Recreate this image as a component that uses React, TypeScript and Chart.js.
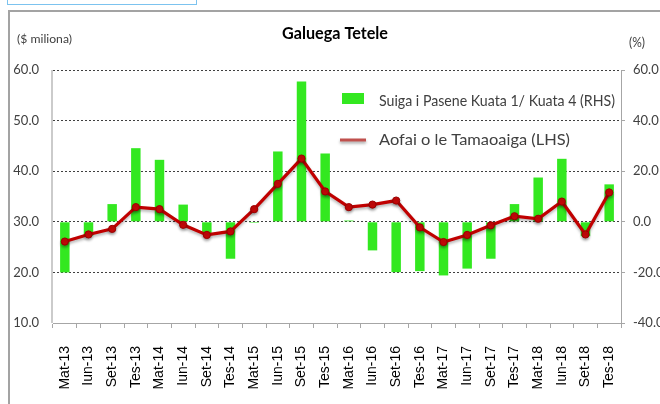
import React, { useEffect, useRef } from 'react';
import { Chart, registerables } from 'chart.js';

Chart.register(...registerables);

const categories = [
  'Mat-13', 'Iun-13', 'Set-13', 'Tes-13',
  'Mat-14', 'Iun-14', 'Set-14', 'Tes-14',
  'Mat-15', 'Iun-15', 'Set-15', 'Tes-15',
  'Mat-16', 'Iun-16', 'Set-16', 'Tes-16',
  'Mat-17', 'Iun-17', 'Set-17', 'Tes-17',
  'Mat-18', 'Iun-18', 'Set-18', 'Tes-18',
];

// RHS: percent change (bars)
const quarterlyChangePct = [
  -20.0, -5.5, 7.0, 29.1,
  24.5, 6.8, -4.5, -14.6,
  -0.4, 27.8, 55.5, 27.0,
  0.5, -11.3, -19.9, -19.5,
  -21.2, -18.5, -14.6, 7.0,
  17.5, 24.9, -5.7, 14.8,
];

// LHS: $ million (line)
const outputLevel = [
  26.1, 27.5, 28.6, 32.9,
  32.5, 29.4, 27.4, 28.1,
  32.5, 37.5, 42.5, 36.0,
  32.9, 33.4, 34.2, 28.9,
  26.0, 27.4, 29.3, 31.1,
  30.6, 34.0, 27.5, 35.8,
];

const leftAxis = { min: 10, max: 60, step: 10 };
const rightAxis = { min: -40, max: 60, step: 20 };

const titleText = 'Galuega Tetele';
const leftUnitText = '($ miliona)';
const rightUnitText = '(%)';
const barLabel = 'Suiga i Pasene Kuata 1/ Kuata 4 (RHS)';
const lineLabel = 'Aofai o le Tamaoaiga (LHS)';

const BAR_COLOR = '#33e820';
const LINE_COLOR = '#c00000';

function fitText(
  ctx: CanvasRenderingContext2D,
  text: string,
  x: number,
  baseline: number,
  width: number,
  size: number,
  weight: string,
  color: string,
) {
  ctx.save();
  ctx.font = `${weight} ${size}px Lato`;
  const w = ctx.measureText(text).width || 1;
  ctx.translate(x, baseline);
  ctx.scale(width / w, 1);
  ctx.fillStyle = color;
  ctx.textAlign = 'left';
  ctx.textBaseline = 'alphabetic';
  ctx.fillText(text, 0, 0);
  ctx.restore();
}

const decorPlugin = {
  id: 'decor',
  beforeDatasetsDraw(chart: any) {
    const ctx: CanvasRenderingContext2D = chart.ctx;
    const a = chart.chartArea;
    ctx.save();
    ctx.strokeStyle = '#cbcbcb';
    ctx.lineWidth = 2;
    ctx.beginPath();
    ctx.moveTo(a.left - 1, a.top);
    ctx.lineTo(a.left - 1, a.bottom);
    ctx.stroke();
    ctx.restore();
  },
  beforeDatasetDraw(chart: any, args: any) {
    if (args.index === 0) {
      const ctx: CanvasRenderingContext2D = chart.ctx;
      ctx.save();
      ctx.shadowColor = 'rgba(0,0,0,0.3)';
      ctx.shadowBlur = 3;
      ctx.shadowOffsetY = 2;
    }
  },
  afterDatasetDraw(chart: any, args: any) {
    if (args.index === 0) {
      chart.ctx.restore();
    }
  },
  afterDraw(chart: any) {
    const ctx: CanvasRenderingContext2D = chart.ctx;
    fitText(ctx, titleText, 282, 38.5, 106, 17, 'bold', '#000');
    fitText(ctx, leftUnitText, 17, 42.5, 55, 12, 'normal', '#404040');
    fitText(ctx, rightUnitText, 629, 47, 16, 13, 'normal', '#404040');

    // legend
    ctx.save();
    ctx.fillStyle = BAR_COLOR;
    ctx.fillRect(342, 93, 22, 11);
    ctx.restore();
    fitText(ctx, barLabel, 379, 105.5, 236, 15, 'normal', '#404040');

    ctx.save();
    ctx.shadowColor = 'rgba(0,0,0,0.35)';
    ctx.shadowBlur = 3;
    ctx.shadowOffsetY = 2;
    ctx.strokeStyle = '#c0504d';
    ctx.lineWidth = 3;
    ctx.beginPath();
    ctx.moveTo(340, 140);
    ctx.lineTo(366, 140);
    ctx.stroke();
    ctx.restore();
    fitText(ctx, lineLabel, 379, 144.5, 191, 16, 'normal', '#404040');
  },
};

export default function App() {
  const canvasRef = useRef<HTMLCanvasElement | null>(null);

  useEffect(() => {
    if (!canvasRef.current) return;
    const chart = new Chart(canvasRef.current, {
      type: 'bar',
      data: {
        labels: categories,
        datasets: [
          {
            type: 'line',
            label: lineLabel,
            data: outputLevel,
            yAxisID: 'yL',
            borderColor: LINE_COLOR,
            borderWidth: 3.2,
            pointRadius: 3.6,
            pointBackgroundColor: '#c80808',
            pointBorderColor: '#9a0000',
            pointBorderWidth: 1,
            tension: 0,
            order: 0,
          } as any,
          {
            type: 'bar',
            label: barLabel,
            data: quarterlyChangePct,
            yAxisID: 'yR',
            backgroundColor: BAR_COLOR,
            borderWidth: 0,
            barPercentage: 0.4,
            categoryPercentage: 1,
            order: 1,
          },
        ],
      },
      options: {
        responsive: false,
        animation: false,
        layout: { padding: { top: 70, left: 0, right: 0, bottom: 0 } },
        plugins: {
          legend: { display: false },
          tooltip: { enabled: false },
          title: { display: false },
        },
        scales: {
          x: {
            offset: true,
            grid: {
              offset: true,
              drawOnChartArea: false,
              drawTicks: true,
              tickLength: 5,
              color: '#a6a6a6',
            },
            border: { color: '#a6a6a6', width: 1 },
            ticks: {
              autoSkip: false,
              minRotation: 90,
              maxRotation: 90,
              padding: 18,
              color: '#000',
              font: { family: 'Liberation Sans', size: 14 },
            },
            afterFit: (s: any) => {
              s.height = 81;
            },
          },
          yL: {
            type: 'linear',
            position: 'left',
            min: leftAxis.min,
            max: leftAxis.max,
            ticks: {
              stepSize: leftAxis.step,
              padding: 14,
              color: '#404040',
              font: { family: 'Lato', size: 13 },
              callback: (v: any) => Number(v).toFixed(1),
            },
            grid: {
              drawTicks: false,
              color: (c: any) => (c.tick && c.tick.value === leftAxis.min ? 'rgba(0,0,0,0)' : '#404040'),
              lineWidth: 1,
            },
            border: { display: false, dash: [2, 2] },
            afterFit: (s: any) => {
              s.width = 53;
            },
          },
          yR: {
            type: 'linear',
            position: 'right',
            min: rightAxis.min,
            max: rightAxis.max,
            ticks: {
              stepSize: rightAxis.step,
              padding: 8,
              color: '#404040',
              font: { family: 'Lato', size: 13 },
              callback: (v: any) => Number(v).toFixed(1),
            },
            grid: {
              drawOnChartArea: false,
              drawTicks: true,
              tickLength: 4,
              color: '#a6a6a6',
            },
            border: { color: '#a6a6a6', width: 1 },
            afterFit: (s: any) => {
              s.width = 39;
            },
          },
        },
      } as any,
      plugins: [decorPlugin],
    });
    return () => chart.destroy();
  }, []);

  return (
    <div
      style={{
        position: 'fixed',
        left: 0,
        top: 0,
        width: 660,
        height: 404,
        background: '#fff',
        overflow: 'hidden',
      }}
    >
      <div
        style={{
          position: 'absolute',
          left: 7,
          top: -3,
          width: 190,
          height: 8,
          border: '1.5px solid #7cc3ef',
          boxSizing: 'border-box',
        }}
      />
      <div
        style={{
          position: 'absolute',
          left: 8,
          top: 10,
          width: 700,
          height: 500,
          borderLeft: '2px solid #a3a3a3',
          borderTop: '2px solid #a3a3a3',
          boxSizing: 'border-box',
        }}
      />
      <canvas
        ref={canvasRef}
        width={660}
        height={404}
        style={{ position: 'absolute', left: 0, top: 0, width: 660, height: 404 }}
      />
    </div>
  );
}
